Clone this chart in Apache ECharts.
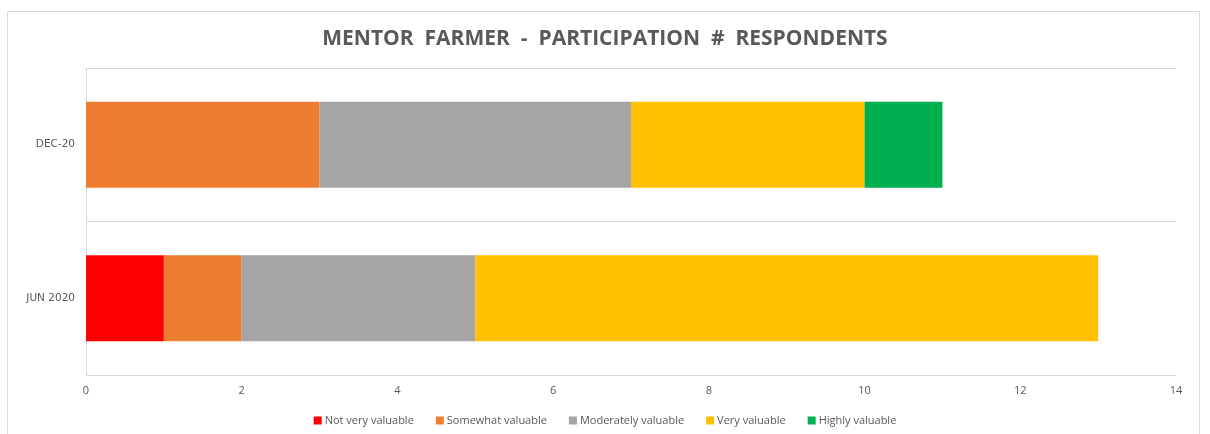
<!DOCTYPE html>
<html><head><meta charset="utf-8">
<script src="https://cdn.jsdelivr.net/npm/echarts@6/dist/echarts.min.js"></script>
<style>html,body{margin:0;padding:0;background:#fff}#c{width:1210px;height:434px}</style>
</head><body><div id="c"></div>
<script>
const categories = ['JUN 2020', 'DEC-20'];
const seriesNames = ['Not very valuable', 'Somewhat valuable', 'Moderately valuable', 'Very valuable', 'Highly valuable'];
const notVeryValuable = [1, 0];
const somewhatValuable = [1, 3];
const moderatelyValuable = [3, 4];
const veryValuable = [8, 3];
const highlyValuable = [0, 1];
const xTicks = [0, 2, 4, 6, 8, 10, 12, 14];
const colors = ['#FF0000', '#ED7D31', '#A5A5A5', '#FFC000', '#00B050'];
const values = [notVeryValuable, somewhatValuable, moderatelyValuable, veryValuable, highlyValuable];

const chart = echarts.init(document.getElementById('c'), null, {renderer: 'canvas'});
chart.setOption({
  animation: false,
  backgroundColor: '#fff',
  title: {
    text: 'MENTOR  FARMER  -  PARTICIPATION  #  RESPONDENTS',
    left: 'center', top: 24,
    textStyle: {fontFamily: 'Open Sans', fontWeight: 'bold', fontSize: 21, color: '#595959'}
  },
  graphic: [{
    type: 'rect', shape: {x: 7.5, y: 11.5, width: 1192, height: 440},
    style: {fill: 'none', stroke: '#d9d9d9', lineWidth: 1}, silent: true
  }],
  legend: {
    bottom: 3, left: 'center', icon: 'rect', itemWidth: 8, itemHeight: 8, itemGap: 22,
    textStyle: {fontFamily: 'Open Sans', fontSize: 11, color: '#595959', padding: [0, 0, 0, -2]},
    data: seriesNames
  },
  grid: {left: 86, right: 34, top: 68, bottom: 59, containLabel: false},
  xAxis: {
    type: 'value', min: xTicks[0], max: xTicks[xTicks.length - 1], interval: 2,
    axisLine: {show: false}, axisTick: {show: false}, splitLine: {show: false},
    axisLabel: {color: '#595959', fontFamily: 'Open Sans', fontSize: 11, margin: 10}
  },
  yAxis: {
    type: 'category', data: categories,
    axisLine: {show: true, lineStyle: {color: '#d9d9d9', width: 1}},
    axisTick: {show: false},
    splitLine: {show: true, lineStyle: {color: '#d9d9d9', width: 1}},
    axisLabel: {color: '#595959', fontFamily: 'DejaVu Sans', fontSize: 10.5, margin: 11}
  },
  series: seriesNames.map((n, i) => ({
    name: n, type: 'bar', stack: 'total', data: values[i],
    barCategoryGap: '44%',
    itemStyle: {color: colors[i]}
  }))
});
</script></body></html>
